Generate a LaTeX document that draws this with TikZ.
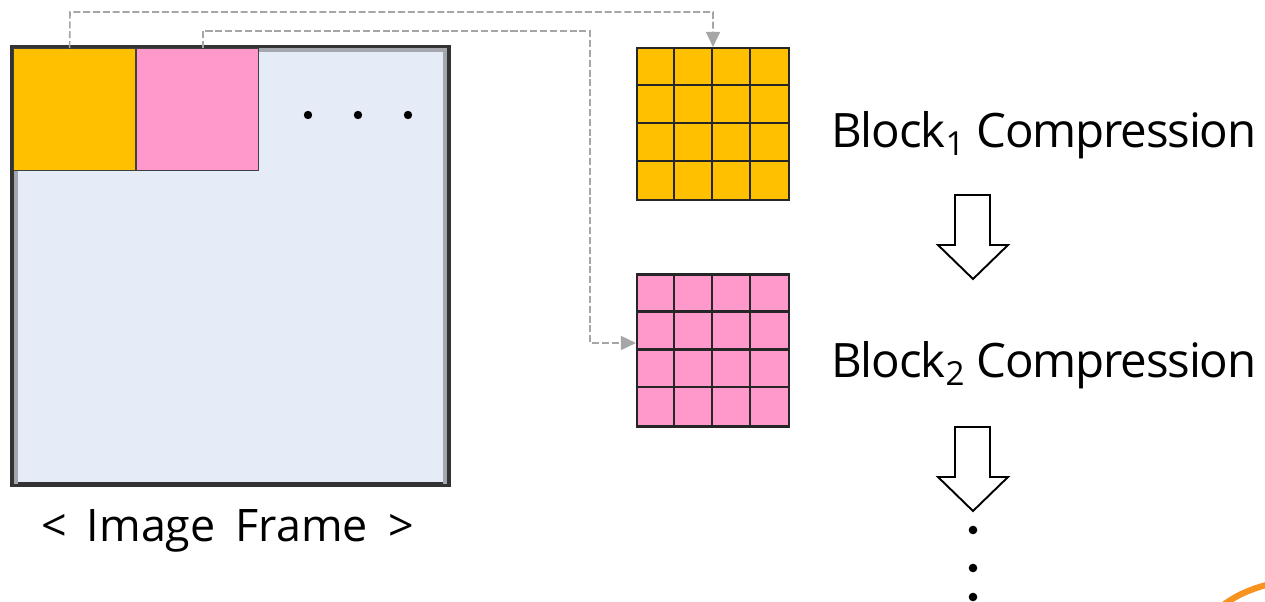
\documentclass[tikz,border=0pt]{standalone}
\usepackage{fontspec}
\setmainfont{Open Sans}
\usetikzlibrary{arrows.meta,positioning}

\definecolor{blkorange}{HTML}{FFC000}
\definecolor{blkpink}{HTML}{FF99CC}
\definecolor{framefill}{HTML}{E6ECF7}
\definecolor{framegray}{HTML}{A4A8AE}
\definecolor{linkgray}{HTML}{A6A6A6}
\definecolor{logoorange}{HTML}{F7931E}

\begin{document}
\begin{tikzpicture}[
  x=0.02cm, y=-0.02cm,
  frame/.style={draw=black!80, line width=1.7pt, fill=framefill,
                minimum width=8.7cm, minimum height=8.72cm, inner sep=0pt},
  tile/.style={draw=black!75, line width=0.7pt, minimum size=2.44cm, inner sep=0pt},
  grid/.style={draw=black!85, line width=1.2pt, minimum size=3.04cm, inner sep=0pt},
  lbl/.style={font=\fontsize{27}{32}\selectfont\addfontfeature{LetterSpace=-2.5},
              inner sep=0pt},
  link/.style={linkgray, dash pattern=on 4pt off 1.6pt, line width=0.9pt,
               -{Triangle[length=0.3cm, width=0.28cm]}},
  hollow/.style={draw=black, line width=1.1pt, fill=white, line join=miter}
]
\useasboundingbox (0,0) rectangle (1265,602);

% image frame with the first two blocks
\node[frame] (frame) at (230.5,266) {};
\draw[framegray, line width=1.9pt]
  ([shift={(4.5,0)}]frame.south west) -- ([shift={(4.5,3.5)}]frame.north west)
  -- ([shift={(-4.5,3.5)}]frame.north east) -- ([shift={(-4.5,0)}]frame.south east);
\draw[black!80, line width=1.7pt] (frame.south west) rectangle (frame.north east);
\node[tile, fill=blkorange, anchor=north west] (tile1) at ([shift={(1.5,1.5)}]frame.north west) {};
\node[tile, fill=blkpink, right=0pt of tile1] (tile2) {};
\foreach \x in {308,358,408}
  \fill (\x,115) circle (4.2);
\node[inner sep=0pt, font=\fontsize{25.5}{30}\selectfont, anchor=base]
  (framelbl) at ([shift={(-3,56)}]frame.south)
  {<\hspace{0.45em}Image\hspace{0.45em}Frame\hspace{0.45em}>};

% the blocks split into 4x4 pixels
\node[grid, fill=blkorange] (grid1) at (713,124) {};
\node[grid, fill=blkpink] (grid2) at (713,350.5) {};
\foreach \g in {grid1,grid2}
  \foreach \k in {1,2,3} {
    \draw[black!85, line width=1.2pt]
      ([xshift=\k*0.76cm]\g.north west) -- ([xshift=\k*0.76cm]\g.south west);
    \draw[black!85, line width=1.2pt]
      ([yshift=-\k*0.76cm]\g.north west) -- ([yshift=-\k*0.76cm]\g.north east);
  }

\coordinate (turn1) at (70,12);
\coordinate (turn2) at (590,31);
\draw[link] ([xshift=-0.1cm]tile1.north) -- (turn1) -| (grid1.north);
\draw[link] ([xshift=0.1cm]tile2.north) |- (turn2) |- ([yshift=0.15cm]grid2.west);

\node[lbl, anchor=base west] (comp1) at ([shift={(41,23)}]grid1.east)
  {Block\textsubscript{1} Compression};
\node[lbl, anchor=base west] (comp2) at ([shift={(41,26.5)}]grid2.east)
  {Block\textsubscript{2} Compression};

% hollow down arrows and the dots after them
\foreach \t in {195,427}
  \draw[hollow] (955,\t) -- ++(35,0) -- ++(0,50) -- ++(18,0) -- (973,\t+84)
    -- (938,\t+50) -- ++(17,0) -- cycle;
\foreach \y in {530,568,597}
  \fill (973,\y) circle (4.3);

% corner of the logo
\draw[logoorange, line width=3.5pt] (1222,606) .. controls (1235,596) and (1250,589) .. (1270,584);
\end{tikzpicture}
\end{document}
